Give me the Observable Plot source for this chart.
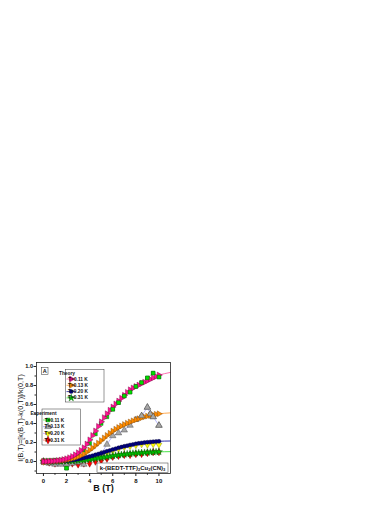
<!DOCTYPE html>
<html><head><meta charset="utf-8">
<script src="https://cdn.jsdelivr.net/npm/d3@7"></script>
<script src="https://cdn.jsdelivr.net/npm/@observablehq/plot@0.6"></script>
<style>body{margin:0;background:#fff} svg{display:block}</style>
</head><body><div id="chart"></div>
<script>
// ---- Data ----
const theoryB = [0,0.25,0.5,0.75,1,1.25,1.5,1.75,2,2.25,2.5,2.75,3,3.25,3.5,3.75,4,4.25,4.5,4.75,5,5.25,5.5,5.75,6,6.25,6.5,6.75,7,7.25,7.5,7.75,8,8.25,8.5,8.75,9,9.25,9.5,9.75,10,10.5,11];
const theory011 = [0,0.001,0.002,0.004,0.007,0.010,0.015,0.021,0.029,0.040,0.054,0.071,0.092,0.117,0.146,0.184,0.228,0.275,0.322,0.370,0.418,0.462,0.503,0.540,0.574,0.606,0.636,0.666,0.697,0.728,0.755,0.774,0.790,0.805,0.820,0.835,0.850,0.865,0.880,0.895,0.910,0.925,0.938];
const theory013 = [0,0,0.001,0.002,0.004,0.006,0.009,0.013,0.018,0.024,0.031,0.040,0.051,0.064,0.080,0.099,0.120,0.143,0.168,0.194,0.221,0.248,0.274,0.298,0.320,0.340,0.358,0.374,0.389,0.403,0.416,0.428,0.440,0.451,0.461,0.470,0.478,0.485,0.491,0.497,0.502,0.508,0.512];
const theory020 = [0,0,0,0.001,0.002,0.003,0.005,0.007,0.009,0.012,0.016,0.020,0.025,0.031,0.038,0.045,0.053,0.061,0.070,0.079,0.088,0.098,0.108,0.117,0.126,0.135,0.144,0.152,0.160,0.167,0.174,0.180,0.186,0.191,0.196,0.200,0.203,0.206,0.209,0.211,0.213,0.215,0.216];
const theory031 = [0,0,0,0,0.001,0.001,0.002,0.003,0.004,0.005,0.007,0.009,0.011,0.013,0.016,0.019,0.023,0.027,0.031,0.035,0.040,0.045,0.050,0.055,0.060,0.064,0.068,0.072,0.076,0.079,0.082,0.085,0.088,0.090,0.092,0.094,0.096,0.098,0.099,0.101,0.102,0.103,0.104];

const expB011 = [0,0.5,1,1.5,2,2.5,3,3.5,4,4.5,5,5.5,6,6.5,7,7.5,8,8.5,9,9.5,10];
const exp011  = [0,0,0.01,0,-0.07,0.03,0.07,0.12,0.19,0.29,0.40,0.47,0.55,0.62,0.69,0.73,0.79,0.83,0.88,0.93,0.89];
const expB013 = [0,0.5,1,1.5,2,2.5,3,3.5,4,4.5,5,5.5,6,6.5,7,7.5,8,8.5,9,9.25,9.5,10];
const exp013  = [0,-0.02,-0.03,-0.03,-0.03,-0.02,-0.01,-0.03,0.03,0.05,0.08,0.18,0.27,0.30,0.33,0.38,0.44,0.48,0.57,0.50,0.47,0.38];
const expB020 = [0,0.5,1,1.5,2,2.5,3,3.5,4,4.5,5,5.5,6,6.5,7,7.5,8,8.5,9,9.5,10];
const exp020  = [0,0,0,0.01,0.01,0.02,0.03,0.03,0.04,0.05,0.07,0.09,0.11,0.13,0.15,0.16,0.17,0.18,0.175,0.18,0.175];
const expB031 = [0,0.5,1,1.5,2,2.5,3,3.5,4,4.5,5,5.5,6,6.5,7,7.5,8,8.5,9,9.5,10];
const exp031  = [0,-0.01,-0.02,-0.01,-0.02,-0.02,-0.03,-0.02,-0.02,0,0.01,0.03,0.05,0.06,0.07,0.07,0.08,0.08,0.09,0.10,0.10];

const seriesLabels = ["T=0.11 K","T=0.13 K","T=0.20 K","T=0.31 K"];
const xTicks = [0,2,4,6,8,10];
const xMinor = [1,3,5,7,9];
const yTicks = [0,0.2,0.4,0.6,0.8,1.0];
const yMinor = [-0.1,0.1,0.3,0.5,0.7,0.9];
const yTitle = "I(B,T)=[k(B,T)-k(0,T)]/k(0,T)";
const xTitle = "B (T)";

// ---- Styles ----
const theoryStyle = [
  {line:"#ff5fa8", fill:"#ff1493", stroke:"#7a0040", symbol:"triangle", rotate:90, r:2.2},
  {line:"#ffa040", fill:"#ff8c00", stroke:"#7a4000", symbol:"triangle", rotate:90, r:2.2},
  {line:"#1a1aa0", fill:"#000080", stroke:"#000030", symbol:"circle", rotate:0, r:2.0},
  {line:"#33e033", fill:"#00c000", stroke:"#005000", symbol:"star", rotate:0, r:2.2}
];
const expStyle = [
  {line:"#60ff60", fill:"#00e000", stroke:"#005000", symbol:"square", rotate:0, r:2.1},
  {line:"#8c8cff", fill:"#a8a8a8", stroke:"#333333", symbol:"triangle", rotate:0, r:2.4},
  {line:"#c8a0ff", fill:"#ffff00", stroke:"#7a7a00", symbol:"triangle", rotate:180, r:2.2},
  {line:"#ff8080", fill:"#ff0000", stroke:"#700000", symbol:"diamond", rotate:0, r:2.3}
];

const rows = (xs, ys) => xs.map((x,i) => ({B:x, I:ys[i]}));
const theoryData = [theory011, theory013, theory020, theory031].map(ys => rows(theoryB, ys));
const expData = [[expB011,exp011],[expB013,exp013],[expB020,exp020],[expB031,exp031]].map(([xs,ys]) => rows(xs, ys));

const font = "'Liberation Sans', Arial, sans-serif";
const marks = [];
marks.push(Plot.axisX({ticks: xTicks, tickSize: 3, tickPadding: 2.5, label: null, fontSize: 6, stroke:"#222"}));
marks.push(Plot.axisX({ticks: xMinor, tickSize: 1.8, tickFormat: () => "", label: null, stroke:"#222"}));
marks.push(Plot.axisY({ticks: yTicks, tickSize: 2.5, tickPadding: 1, tickFormat: d3.format(".1f"), label: null, fontSize: 5.6, stroke:"#222"}));
marks.push(Plot.axisY({ticks: yMinor, tickSize: 1.5, tickFormat: () => "", label: null, stroke:"#222"}));
theoryData.forEach((d,i) => marks.push(Plot.line(d, {x:"B", y:"I", stroke: theoryStyle[i].line, strokeWidth: 0.9})));
expData.forEach((d,i) => marks.push(Plot.line(d, {x:"B", y:"I", stroke: expStyle[i].line, strokeWidth: 0.6})));
[3,2,1,0].forEach(i => {
  const s = expStyle[i];
  marks.push(Plot.dot(expData[i], {x:"B", y:"I", symbol: () => s.symbol, r: s.r, rotate: s.rotate, fill: s.fill, stroke: s.stroke, strokeWidth: 0.4}));
});
[3,2,1,0].forEach(i => {
  const s = theoryStyle[i];
  marks.push(Plot.dot(theoryData[i].filter(d => d.B <= 10), {x:"B", y:"I", symbol: () => s.symbol, r: s.r, rotate: s.rotate, fill: s.fill, stroke: s.stroke, strokeWidth: 0.4}));
});
// a few experimental points drawn above the theory chain, as in the reference
marks.push(Plot.dot(expData[0].filter(d => d.B >= 6 || d.B === 2), {x:"B", y:"I", symbol: () => "square", r: expStyle[0].r, fill: expStyle[0].fill, stroke: expStyle[0].stroke, strokeWidth: 0.4}));
marks.push(Plot.dot(expData[1].filter(d => d.B >= 8.5), {x:"B", y:"I", symbol: () => "triangle", r: expStyle[1].r, fill: expStyle[1].fill, stroke: expStyle[1].stroke, strokeWidth: 0.4}));
marks.push(Plot.frame({stroke: "#222", strokeWidth: 0.8}));
marks.push(Plot.text([xTitle], {frameAnchor: "bottom", dy: 17.5, fontSize: 9, fontWeight: "bold"}));
marks.push(Plot.text([yTitle], {frameAnchor: "left", dx: -15.5, rotate: -90, textAnchor: "middle", fontSize: 7.2, fontWeight: "normal"}));

const plot = Plot.plot({
  width: 390, height: 505,
  marginLeft: 36, marginRight: 220, marginTop: 362, marginBottom: 32,
  x: {domain: [-0.6, 11]},
  y: {domain: [-0.126, 1.042]},
  symbol: {type: "identity"},
  style: {fontFamily: font, fontSize: "6px", fontWeight: "bold", background: "white", color: "#111"},
  marks
});
document.getElementById("chart").appendChild(plot);

// ---- Legends / annotations ----
const svg = d3.select(plot);
const g = svg.append("g").attr("font-family", font).attr("font-weight", "bold").attr("fill", "#111");
const symMap = {triangle: d3.symbolTriangle, circle: d3.symbolCircle, star: d3.symbolStar, square: d3.symbolSquare, diamond: d3.symbolDiamond};
function legendBox(x, y, w, h, title, styles, rowY, lineX0, lineX1, textX) {
  g.append("rect").attr("x", x).attr("y", y).attr("width", w).attr("height", h)
    .attr("fill", "white").attr("stroke", "#333").attr("stroke-width", 0.5);
  g.append("text").attr("x", x + 1.5).attr("y", y + 4).attr("dominant-baseline", "central")
    .attr("font-size", 4.8).text(title);
  styles.forEach((s, i) => {
    const cy = rowY[i];
    g.append("line").attr("x1", lineX0).attr("x2", lineX1).attr("y1", cy).attr("y2", cy)
      .attr("stroke", s.line).attr("stroke-width", 0.8);
    const area = Math.PI * s.r * s.r;
    g.append("path").attr("d", d3.symbol(symMap[s.symbol], area)())
      .attr("transform", `translate(${(lineX0 + lineX1) / 2},${cy}) rotate(${s.rotate})`)
      .attr("fill", s.fill).attr("stroke", s.stroke).attr("stroke-width", 0.4);
    g.append("text").attr("x", textX).attr("y", cy).attr("dominant-baseline", "central")
      .attr("font-size", 4.8).text(seriesLabels[i]);
  });
}
// "A" label
g.append("rect").attr("x", 41.5).attr("y", 367.5).attr("width", 6.5).attr("height", 7)
  .attr("fill", "white").attr("stroke", "#333").attr("stroke-width", 0.5);
g.append("text").attr("x", 44.75).attr("y", 371.2).attr("text-anchor", "middle")
  .attr("dominant-baseline", "central").attr("font-size", 5.5).text("A");

legendBox(65.5, 369.5, 38.5, 32.5, "Theory", theoryStyle, [379, 385.3, 391.6, 397.9], 66.5, 76, 78);
legendBox(42, 409, 38.5, 36, "Experiment", expStyle, [420, 426.7, 433.4, 440.1], 43, 53, 54.5);

// compound label
g.append("rect").attr("x", 97).attr("y", 463).attr("width", 71).attr("height", 9.5)
  .attr("fill", "white").attr("stroke", "#333").attr("stroke-width", 0.5);
const t = g.append("text").attr("x", 132.5).attr("y", 469.8).attr("text-anchor", "middle").attr("font-size", 6);
[["k-(BEDT-TTF)", false], ["2", true], ["Cu", false], ["2", true], ["(CN)", false], ["3", true]].forEach(([s, sub]) => {
  const ts = t.append("tspan").text(s);
  if (sub) ts.attr("font-size", 4).attr("dy", 1.3);
  else ts.attr("dy", t.selectAll("tspan").size() > 1 ? -1.3 : 0);
});
</script>
</body></html>
